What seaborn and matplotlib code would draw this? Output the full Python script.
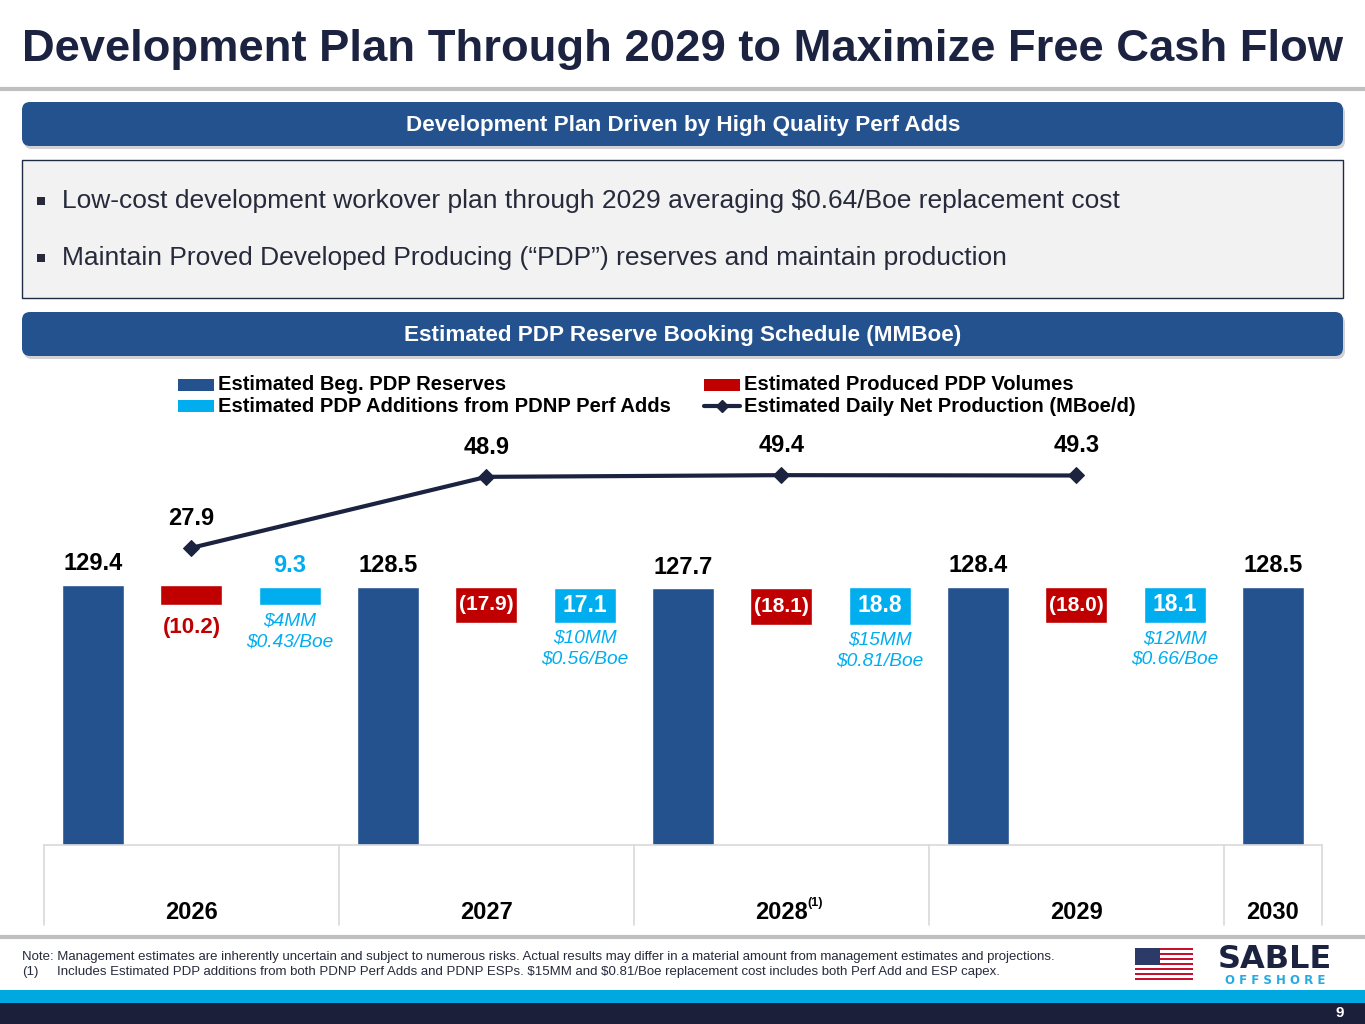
import numpy as np
import pandas as pd
import matplotlib
matplotlib.use('Agg')
import matplotlib.pyplot as plt
import seaborn as sns
from matplotlib.patches import Rectangle, FancyBboxPatch
from matplotlib.lines import Line2D

# chart values
years = ['2026', '2027', '2028', '2029', '2030']
beg_reserves = [129.4, 128.5, 127.7, 128.4, 128.5]
produced = [-10.2, -17.9, -18.1, -18.0]
additions = [9.3, 17.1, 18.8, 18.1]
daily_prod = [27.9, 48.9, 49.4, 49.3]
capex = ['$4MM', '$10MM', '$15MM', '$12MM']
cost_per_boe = ['$0.43/Boe', '$0.56/Boe', '$0.81/Boe', '$0.66/Boe']

NAVY = '#1C2340'
BLUE = '#24528F'
RED = '#C00000'
CYAN = '#00AEEF'
TXT = '#262A3A'

sns.set_theme(style='white')
plt.rcParams['font.family'] = ['Liberation Sans', 'DejaVu Sans']

# waterfall table
rows = []
for i, yr in enumerate(years):
    rows.append(dict(pos=3 * i, kind='beg', bottom=0.0, height=beg_reserves[i]))
    if i < len(produced):
        after = beg_reserves[i] + produced[i]
        rows.append(dict(pos=3 * i + 1, kind='prod', bottom=after, height=-produced[i]))
        rows.append(dict(pos=3 * i + 2, kind='add', bottom=after, height=additions[i]))
df = pd.DataFrame(rows)
line_pos = [3 * i + 1 for i in range(len(daily_prod))]

fig = plt.figure(figsize=(13.65, 10.24), dpi=100)

# background / slide decorations in pixel coordinates
bg = fig.add_axes([0, 0, 1, 1])
bg.set_xlim(0, 1365)
bg.set_ylim(1024, 0)
bg.axis('off')

bg.text(22, 50, 'Development Plan Through 2029 to Maximize Free Cash Flow', fontsize=32.7,
        fontweight='bold', color=NAVY, va='center', ha='left')
bg.plot([0, 1365], [89, 89], color='#BFBFBF', lw=3)


def banner(y, text):
    bg.add_patch(FancyBboxPatch((24, y + 3), 1321, 44, boxstyle='round,pad=0,rounding_size=8',
                                fc='#7F7F7F', ec='none', alpha=0.35))
    bg.add_patch(FancyBboxPatch((22, y), 1321, 44, boxstyle='round,pad=0,rounding_size=8',
                                fc=BLUE, ec='none'))
    bg.text(683, y + 23, text, color='white', fontsize=16.2, fontweight='bold', ha='center', va='center')


banner(102, 'Development Plan Driven by High Quality Perf Adds')
bg.add_patch(Rectangle((22, 160), 1321, 138, fc='#F2F2F2', ec='#1F2A44', lw=1))
for y, t in [(201, 'Low-cost development workover plan through 2029 averaging $0.64/Boe replacement cost'),
             (258, 'Maintain Proved Developed Producing (\u201cPDP\u201d) reserves and maintain production')]:
    bg.add_patch(Rectangle((37, y - 4), 8, 8, fc=TXT, ec='none'))
    bg.text(62, y, t, fontsize=19, color=TXT, va='center', ha='left', parse_math=False)
banner(312, 'Estimated PDP Reserve Booking Schedule (MMBoe)')

# legend
leg_items = [(178, 385, BLUE, 'Estimated Beg. PDP Reserves'),
             (178, 406, CYAN, 'Estimated PDP Additions from PDNP Perf Adds'),
             (704, 385, RED, 'Estimated Produced PDP Volumes')]
for x, y, c, t in leg_items:
    bg.add_patch(Rectangle((x, y - 6), 36, 12, fc=c, ec='none'))
    bg.text(x + 40, y, t, fontsize=14.5, fontweight='bold', color='black', va='center')
bg.add_line(Line2D([704, 740], [406, 406], color=NAVY, lw=3))
bg.plot([722], [406], marker='D', color=NAVY, markersize=6)
bg.text(744, 406, 'Estimated Daily Net Production (MBoe/d)', fontsize=14.5, fontweight='bold',
        color='black', va='center')

# footer
bg.plot([0, 1365], [937, 937], color='#BFBFBF', lw=3)
bg.text(22, 957, 'Note: Management estimates are inherently uncertain and subject to numerous risks. '
        'Actual results may differ in a material amount from management estimates and projections.',
        fontsize=9.55, color=TXT, va='center', parse_math=False)
bg.text(22, 972, '(1)', fontsize=9.55, color=TXT, va='center')
bg.text(57, 972, 'Includes Estimated PDP additions from both PDNP Perf Adds and PDNP ESPs. '
        '$15MM and $0.81/Boe replacement cost includes both Perf Add and ESP capex.',
        fontsize=9.55, color=TXT, va='center', parse_math=False)
bg.add_patch(Rectangle((0, 990), 1365, 13, fc='#00A8E1', ec='none'))
bg.add_patch(Rectangle((0, 1003), 1365, 21, fc='#1C1F3A', ec='none'))
bg.text(1340, 1013, '9', color='white', fontsize=11, fontweight='bold', ha='center', va='center')

# logo
for k in range(13):
    bg.add_patch(Rectangle((1135, 948 + k * 32 / 13), 58, 32 / 13,
                           fc='#C8102E' if k % 2 == 0 else 'white', ec='none'))
bg.add_patch(Rectangle((1135, 948), 25, 17, fc='#2B3A67', ec='none'))
bg.text(1275, 968, 'SABLE', fontsize=23, fontweight='heavy', color=NAVY, ha='center', va='baseline',
        family='DejaVu Sans')
bg.text(1275, 984, 'O F F S H O R E', fontsize=8.5, fontweight='bold', color='#27A9E1', ha='center',
        va='baseline', family='DejaVu Sans')

# chart
ax = fig.add_axes([44 / 1365, 1 - 845 / 1024, (1322 - 44) / 1365, 405 / 1024])
ax.patch.set_alpha(0)
sns.barplot(data=df, x='pos', y='height', hue='kind', hue_order=['beg', 'prod', 'add'],
            palette=[BLUE, RED, CYAN], order=list(range(13)), dodge=False, width=0.63,
            saturation=1, legend=False, errorbar=None, ax=ax)
bottoms = dict(zip(df['pos'], df['bottom']))
for bar in ax.patches:
    c = int(round(bar.get_x() + bar.get_width() / 2))
    bar.set_y(bottoms[c])

ax.set_xlim(-0.5, 12.5)
ax.set_ylim(0, 201.5)
ax.set_xticks([])
ax.set_yticks([])
ax.set_xlabel('')
ax.set_ylabel('')
for s in ['top', 'left', 'right']:
    ax.spines[s].set_visible(False)
ax.spines['bottom'].set_color('#D9D9D9')
ax.spines['bottom'].set_linewidth(1.2)

# bar labels
LBL = 17
INNER = 15
for _, r in df.iterrows():
    top = r['bottom'] + r['height']
    if r['kind'] == 'beg':
        ax.annotate(f"{r['height']:.1f}", (r['pos'], top), xytext=(0, 7), textcoords='offset points',
                    ha='center', va='bottom', fontsize=LBL, fontweight='bold', color='black')
    elif r['height'] < 12:
        if r['kind'] == 'prod':
            ax.annotate(f"({r['height']:.1f})", (r['pos'], r['bottom']), xytext=(0, -8),
                        textcoords='offset points', ha='center', va='top', fontsize=16,
                        fontweight='bold', color=RED)
        else:
            ax.annotate(f"{r['height']:.1f}", (r['pos'], top), xytext=(0, 7), textcoords='offset points',
                        ha='center', va='bottom', fontsize=LBL, fontweight='bold', color=CYAN)
    else:
        t = f"({r['height']:.1f})" if r['kind'] == 'prod' else f"{r['height']:.1f}"
        ax.text(r['pos'], r['bottom'] + r['height'] / 2, t, ha='center', va='center',
                fontsize=INNER if r['kind'] == 'prod' else 16.5, fontweight='bold', color='white')

for i in range(len(additions)):
    p = 3 * i + 2
    b = beg_reserves[i] + produced[i]
    ax.annotate(capex[i] + '\n' + cost_per_boe[i], (p, b), xytext=(0, -5), textcoords='offset points',
                ha='center', va='top', fontsize=13.8, fontstyle='italic', color=CYAN, linespacing=1.3,
                parse_math=False)

# year groups
trans = ax.get_xaxis_transform()
for xb in [-0.5, 2.5, 5.5, 8.5, 11.5, 12.5]:
    ax.plot([xb, xb], [0, -0.198], transform=trans, color='#D9D9D9', lw=1.2, clip_on=False)
year_pos = [1, 4, 7, 10, 12]
for yr, xp in zip(years, year_pos):
    ax.text(xp, -0.167, yr, transform=trans, ha='center', va='center', fontsize=17,
            fontweight='bold', color='black')
ax.annotate('(1)', (7, -0.167), xycoords=trans, xytext=(19, 7), textcoords='offset points',
            ha='left', va='center', fontsize=9, fontweight='bold', color='black')

# daily production line
ax2 = ax.twinx()
sns.lineplot(x=line_pos, y=daily_prod, ax=ax2, color=NAVY, lw=3, marker='D', markersize=8,
             markeredgecolor=NAVY)
ax2.set_ylim(-60, 59.8)
ax2.set_yticks([])
ax2.set_ylabel('')
for s in ax2.spines.values():
    s.set_visible(False)
for xp, v in zip(line_pos, daily_prod):
    ax2.annotate(f'{v:.1f}', (xp, v), xytext=(0, 13), textcoords='offset points', ha='center',
                 va='bottom', fontsize=LBL, fontweight='bold', color='black')

fig.savefig('out.png', dpi=100)
